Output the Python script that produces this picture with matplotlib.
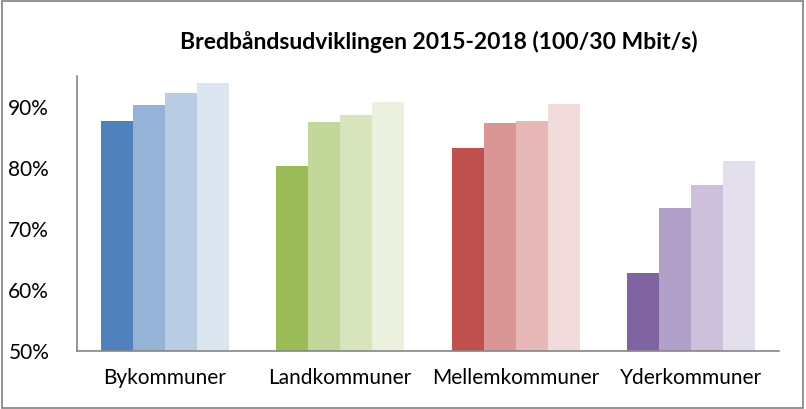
import numpy as np
import matplotlib
matplotlib.use("Agg")
import matplotlib.pyplot as plt
from matplotlib.patches import Rectangle

# --- Data ---
categories = ["Bykommuner", "Landkommuner", "Mellemkommuner", "Yderkommuner"]
years = ["2015", "2016", "2017", "2018"]
values = {
    "Bykommuner":     [87.6, 90.3, 92.2, 93.8],
    "Landkommuner":   [80.3, 87.4, 88.6, 90.7],
    "Mellemkommuner": [83.2, 87.3, 87.6, 90.4],
    "Yderkommuner":   [62.7, 73.4, 77.1, 81.1],
}
colors = {
    "Bykommuner":     ["#4F81BD", "#95B3D7", "#B8CCE4", "#DCE6F1"],
    "Landkommuner":   ["#9BBB59", "#C4D79B", "#D8E4BC", "#EBF1DE"],
    "Mellemkommuner": ["#C0504D", "#DA9694", "#E6B8B7", "#F2DCDB"],
    "Yderkommuner":   ["#8064A2", "#B1A0C7", "#CCC0DA", "#E4DFEC"],
}
yticks = [50, 60, 70, 80, 90]
title = "Bredbåndsudviklingen 2015-2018 (100/30 Mbit/s)"

plt.rcParams['font.family'] = ['Lato', 'DejaVu Sans']

fig = plt.figure(figsize=(8.06, 4.09), dpi=100)
ax = fig.add_axes([0.0955, 0.1418, 0.871, 0.6724])

bar_w = 0.1823
x = np.arange(len(categories))
for i, cat in enumerate(categories):
    for j in range(len(years)):
        ax.bar(x[i] + (j - 1.5) * bar_w, values[cat][j] - 50, bottom=50,
               width=bar_w, color=colors[cat][j], linewidth=0)

ax.set_xlim(-0.5, len(categories) - 0.5)
ax.set_ylim(50, 95)
ax.set_yticks(yticks)
ax.set_yticklabels([f"{v}%" for v in yticks], fontsize=15)
ax.set_xticks(x)
ax.set_xticklabels(categories, fontsize=15)
ax.tick_params(length=0)
ax.tick_params(axis='x', pad=12)
ax.tick_params(axis='y', pad=20)
for s in ['top', 'right']:
    ax.spines[s].set_visible(False)
for s in ['left', 'bottom']:
    ax.spines[s].set_color('#868686')
    ax.spines[s].set_linewidth(1.2)

fig.text(0.545, 0.897, title, fontsize=16.5, fontweight='bold', ha='center', va='center')

# frame around the chart
fig.patches.append(Rectangle((0.002, 0.003), 0.994, 0.994, transform=fig.transFigure,
                             fill=False, edgecolor='#808080', linewidth=1.2))

fig.savefig("out.png", dpi=100)
